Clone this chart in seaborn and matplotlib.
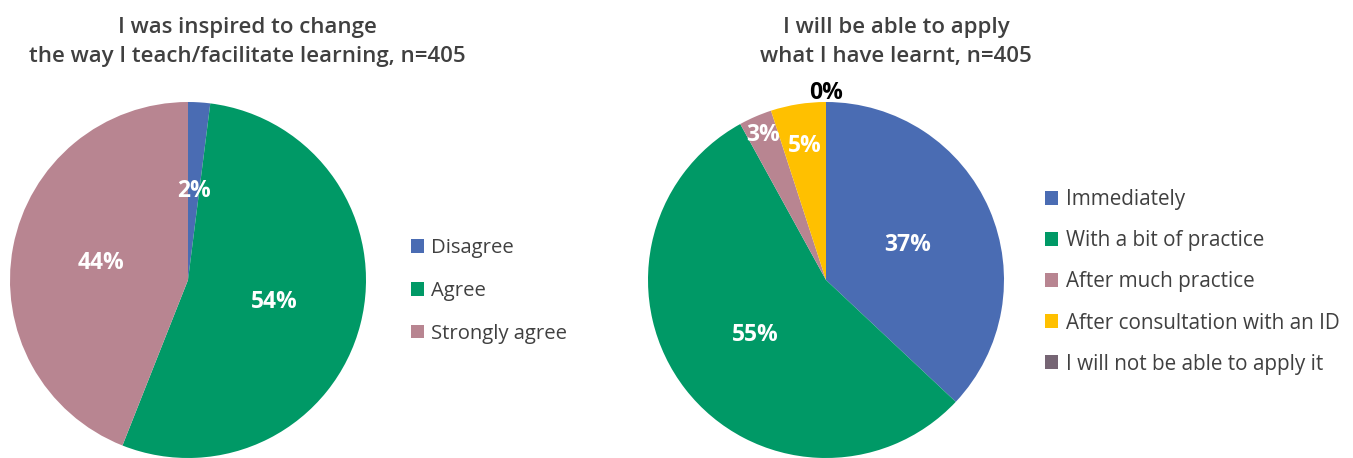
import numpy as np
import matplotlib
matplotlib.use("Agg")
import matplotlib.pyplot as plt
import seaborn as sns

sns.set_theme(style="white")
plt.rcParams["font.family"] = ["Open Sans", "DejaVu Sans"]

# Survey results (percent of respondents, n=405)
inspired_labels = ["Disagree", "Agree", "Strongly agree"]
inspired_values = [2, 54, 44]

apply_labels = ["Immediately", "With a bit of practice", "After much practice",
                "After consultation with an ID", "I will not be able to apply it"]
apply_values = [37, 55, 3, 5, 0]

title_left = "I was inspired to change\nthe way I teach/facilitate learning, n=405"
title_right = "I will be able to apply\nwhat I have learnt, n=405"

palette = sns.color_palette(["#4A6CB3", "#009966", "#B88591", "#FFC000", "#766574"])
TEXT = "#404040"

W, H = 1353, 458
fig = plt.figure(figsize=(W / 100, H / 100), dpi=100)


def px_axes(cx, cy, r):
    return fig.add_axes([(cx - r) / W, (H - cy - r) / H, 2 * r / W, 2 * r / H])


def draw_pie(ax, values, colors, label_r, label_colors):
    wedges, _ = ax.pie(values, colors=colors, startangle=90, counterclock=False,
                       radius=1.0, wedgeprops=dict(linewidth=0))
    total = float(sum(values))
    cum = 0.0
    for v, r, c in zip(values, label_r, label_colors):
        mid = (cum + v / 2) / total * 2 * np.pi
        cum += v
        x, y = r * np.sin(mid), r * np.cos(mid)
        ax.text(x, y, f"{v}%", ha="center", va="center", fontsize=16.5,
                fontweight="bold", color=c, clip_on=False)
    ax.set_xlim(-1, 1)
    ax.set_ylim(-1, 1)
    ax.set_aspect("equal")
    ax.axis("off")
    return wedges


ax1 = px_axes(188, 280, 178)
w1 = draw_pie(ax1, inspired_values, palette[:3], [0.5, 0.5, 0.5], ["white"] * 3)

ax2 = px_axes(826, 280, 178)
w2 = draw_pie(ax2, apply_values, palette, [0.5, 0.5, 0.89, 0.76, 1.05],
              ["white", "white", "white", "white", "black"])

fig.text(247 / W, 1 - 42 / H, title_left, ha="center", va="center", fontsize=16,
         fontweight="semibold", color=TEXT, linespacing=1.55)
fig.text(896 / W, 1 - 42 / H, title_right, ha="center", va="center", fontsize=16,
         fontweight="semibold", color=TEXT, linespacing=1.55)

leg_kw = dict(frameon=False, handlelength=0.65, handleheight=0.65,
              handletextpad=0.35, labelcolor=TEXT,
              borderpad=0, borderaxespad=0)
fig.legend(w1, inspired_labels, loc="center left", fontsize=14.6, labelspacing=1.12,
           bbox_to_anchor=(411 / W, 1 - 291 / H), **leg_kw)
fig.legend(w2, apply_labels, loc="center left", fontsize=14.9, labelspacing=0.97,
           bbox_to_anchor=(1045 / W, 1 - 282 / H), **leg_kw)

fig.savefig("out.png", dpi=100, facecolor="white")
